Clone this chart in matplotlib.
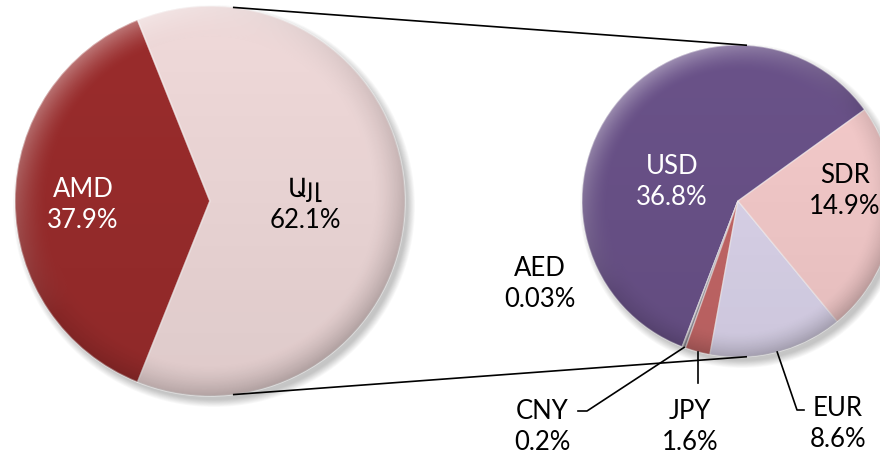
import numpy as np
import matplotlib
matplotlib.use('Agg')
import matplotlib.pyplot as plt
from matplotlib.patches import Circle

# pie of pie: AMD vs other currencies, then the breakdown of "other"
outer_labels = ['AMD', 'Այլ']
outer_values = [37.9, 62.1]
outer_colors = ['#9a2c2c', '#efd9d9']
outer_text_colors = ['white', 'black']

inner_labels = ['USD', 'AED', 'CNY', 'JPY', 'EUR', 'SDR']
inner_values = [36.8, 0.03, 0.2, 1.6, 8.6, 14.9]
inner_colors = ['#6a5289', '#8a7d8c', '#8f8a93', '#c46767', '#dcd5ec', '#f5cbcb']
inner_text_colors = ['white', 'black', 'black', 'black', 'black', 'black']

plt.rcParams['font.family'] = ['Lato', 'DejaVu Sans']

fig = plt.figure(figsize=(8.8, 4.62), dpi=100)
ax = fig.add_axes([0, 0, 1, 1])

H = 462
c1, r1 = (210, H - 201), 195
c2, r2 = (738, H - 201), 156


def pct(v):
    return '{:.1f}%'.format(v) if v >= 0.1 else '{:.2f}%'.format(v)


def shadow(c, r):
    for k in range(10):
        ax.add_patch(Circle((c[0] + 4, c[1] - 5), r + 6 - k * 0.8,
                            color='black', alpha=0.025, lw=0, zorder=1))


def shade(c, r):
    n = 300
    xs = np.linspace(-1, 1, n)
    X, Y = np.meshgrid(xs, xs)
    R = np.sqrt(X ** 2 + Y ** 2)
    rim = np.clip((R - 0.84) / 0.16, 0, 1) ** 1.5
    d = (X * 0.6 - Y * 0.8) / np.maximum(R, 1e-6)
    dark = 0.07 * (1 - Y) / 2 + rim * 0.20 * (0.5 + 0.5 * d)
    light = rim * 0.35 * np.clip(-d, 0, 1)
    img = np.zeros((n, n, 4))
    img[..., :3] = (light / np.maximum(light + dark, 1e-6))[..., None]
    img[..., 3] = np.clip(dark + light, 0, 1)
    im = ax.imshow(img, extent=(c[0] - r, c[0] + r, c[1] - r, c[1] + r),
                   origin='lower', zorder=3, interpolation='bilinear')
    im.set_clip_path(Circle(c, r, transform=ax.transData))


shadow(c1, r1)
shadow(c2, r2)

start1 = 180 - outer_values[0] / 100 * 360 / 2
w1, _ = ax.pie(outer_values, colors=outer_colors, startangle=start1,
               center=c1, radius=r1, frame=True,
               wedgeprops=dict(edgecolor=(1, 1, 1, 0.45), linewidth=1.2))
w2, _ = ax.pie(inner_values, colors=inner_colors, startangle=35.8,
               center=c2, radius=r2, frame=True,
               wedgeprops=dict(edgecolor=(1, 1, 1, 0.45), linewidth=1.0))
for w in w1 + w2:
    w.set_zorder(2)

shade(c1, r1)
shade(c2, r2)

# connector lines between the two pies
for s in (1, -1):
    a1 = np.radians(83 * s)
    a2 = np.radians(87 * s)
    ax.plot([c1[0] + r1 * np.cos(a1), c2[0] + r2 * np.cos(a2)],
            [c1[1] + r1 * np.sin(a1), c2[1] + r2 * np.sin(a2)],
            color='black', lw=1.2, zorder=4)

fs = 18.5
ls = 1.3
outer_pos = [(83, H - 205), (305, H - 205)]
for lab, v, col, p in zip(outer_labels, outer_values, outer_text_colors, outer_pos):
    ax.text(p[0], p[1], '{}\n{}'.format(lab, pct(v)), color=col,
            fontsize=fs, ha='center', va='center', linespacing=ls, zorder=5)

inner_pos = [(672, H - 182), (540, H - 284), (542, H - 427),
             (690, H - 427), (838, H - 424), (845, H - 191)]
for lab, v, col, p in zip(inner_labels, inner_values, inner_text_colors, inner_pos):
    ax.text(p[0], p[1], '{}\n{}'.format(lab, pct(v)), color=col,
            fontsize=fs, ha='center', va='center', linespacing=ls, zorder=5)


def edge(w, frac=1.0):
    a = np.radians((w.theta1 + w.theta2) / 2)
    return w.center[0] + w.r * frac * np.cos(a), w.center[1] + w.r * frac * np.sin(a)


# leader lines for the small slices
x, y = edge(w2[2])
ax.plot([x, 587, 578], [y, H - 411, H - 411], color='black', lw=1.2, zorder=4)
x, y = edge(w2[3])
ax.plot([x, x], [y, H - 383], color='black', lw=1.2, zorder=4)
x, y = edge(w2[4])
ax.plot([x, 797, 804], [y, H - 410, H - 410], color='black', lw=1.2, zorder=4)

ax.set_xlim(0, 880)
ax.set_ylim(0, H)
ax.set_aspect('auto')
ax.axis('off')

fig.savefig('out.png', dpi=100)
